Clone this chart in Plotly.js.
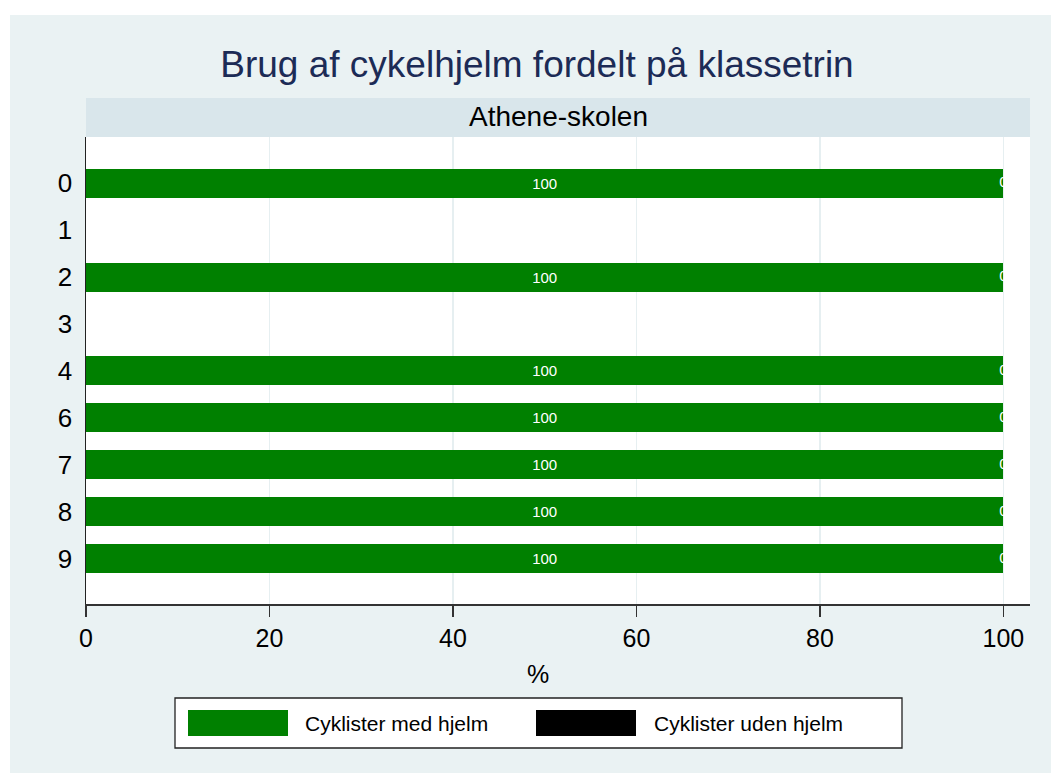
<!DOCTYPE html>
<html>
<head>
<meta charset="utf-8">
<script src="https://cdn.plot.ly/plotly-3.0.1.min.js"></script>
<style>html,body{margin:0;padding:0;background:#fff;}#chart{width:1051px;height:773px;}</style>
</head>
<body>
<div id="chart"></div>
<script>
// Data
var categories = ['0', '1', '2', '3', '4', '6', '7', '8', '9'];
var medHjelm   = [100, null, 100, null, 100, 100, 100, 100, 100];
var udenHjelm  = [0,   null, 0,   null, 0,   0,   0,   0,   0];
var seriesNames = ['Cyklister med hjelm', 'Cyklister uden hjelm'];
var seriesColors = ['#008000', '#000000'];
var xTicks = [0, 20, 40, 60, 80, 100];
var chartTitle = 'Brug af cykelhjelm fordelt på klassetrin';
var panelTitle = 'Athene-skolen';
var xTitle = '%';

var FONT = 'Liberation Sans, Arial, sans-serif';

function labels(arr) { return arr.map(function (v) { return v === null ? '' : String(v); }); }
var cum = medHjelm.map(function (v, i) { return v === null ? null : v + udenHjelm[i]; });

var traces = [
  {
    type: 'bar', orientation: 'h', name: seriesNames[0],
    y: categories, x: medHjelm,
    marker: { color: seriesColors[0], line: { width: 0 } },
    text: labels(medHjelm), textposition: 'inside', insidetextanchor: 'middle',
    textfont: { color: '#ffffff', size: 15, family: FONT },
    constraintext: 'none', hoverinfo: 'x+y+name', showlegend: false
  },
  {
    type: 'bar', orientation: 'h', name: seriesNames[1],
    y: categories, x: udenHjelm,
    marker: { color: seriesColors[1], line: { width: 0 } },
    hoverinfo: 'x+y+name', showlegend: false
  },
  {
    type: 'scatter', mode: 'text', y: categories, x: cum,
    text: labels(udenHjelm), textposition: 'middle center',
    textfont: { color: '#ffffff', size: 15, family: FONT },
    hoverinfo: 'skip', showlegend: false, cliponaxis: true
  }
];

// geometry helpers (pixel -> paper) for decorations
var W = 1051, H = 773, L = 86, R = 21, T = 137, B = 169;
var pw = W - L - R, ph = H - T - B;
function px(x) { return (x - L) / pw; }
function py(y) { return (H - B - y) / ph; }

var shapes = [
  { type: 'rect', xref: 'paper', yref: 'paper', layer: 'below',
    x0: px(10), x1: px(W + 2), y0: py(H + 2), y1: py(15),
    fillcolor: '#EAF2F3', line: { width: 0 } },
  { type: 'rect', xref: 'paper', yref: 'paper', layer: 'below',
    x0: 0, x1: 1, y0: 0, y1: 1, fillcolor: '#ffffff', line: { width: 0 } },
  { type: 'rect', xref: 'paper', yref: 'paper', layer: 'below',
    x0: 0, x1: 1, y0: 1, y1: py(98), fillcolor: '#D9E6EB', line: { width: 0 } },
  // legend box
  { type: 'rect', xref: 'paper', yref: 'paper',
    x0: px(175), x1: px(902), y0: py(748), y1: py(698),
    fillcolor: '#ffffff', line: { color: '#222222', width: 1.3 } },
  { type: 'rect', xref: 'paper', yref: 'paper',
    x0: px(188), x1: px(288), y0: py(736), y1: py(710),
    fillcolor: seriesColors[0], line: { width: 0 } },
  { type: 'rect', xref: 'paper', yref: 'paper',
    x0: px(536), x1: px(636), y0: py(736), y1: py(710),
    fillcolor: seriesColors[1], line: { width: 0 } }
];

var annotations = [
  { xref: 'paper', yref: 'paper', x: 0.5, y: py(117), text: panelTitle, showarrow: false,
    xanchor: 'center', yanchor: 'middle', font: { family: FONT, size: 28, color: '#000000' } },
  { xref: 'paper', yref: 'paper', x: px(538), y: py(674), text: xTitle, showarrow: false,
    xanchor: 'center', yanchor: 'middle', font: { family: FONT, size: 25, color: '#000000' } },
  { xref: 'paper', yref: 'paper', x: px(303), y: py(723), text: seriesNames[0], showarrow: false,
    xanchor: 'left', yanchor: 'middle', font: { family: FONT, size: 21, color: '#000000' } },
  { xref: 'paper', yref: 'paper', x: px(652), y: py(723), text: seriesNames[1], showarrow: false,
    xanchor: 'left', yanchor: 'middle', font: { family: FONT, size: 21, color: '#000000' } }
];

var layout = {
  width: W, height: H,
  margin: { l: L, r: R, t: T, b: B, pad: 0 },
  paper_bgcolor: '#ffffff',
  plot_bgcolor: '#ffffff',
  font: { family: FONT, color: '#000000' },
  barmode: 'stack',
  bargap: 0.383,
  showlegend: false,
  title: {
    text: chartTitle, xref: 'container', yref: 'container',
    x: 537 / W, y: 1 - 64 / H, xanchor: 'center', yanchor: 'middle',
    font: { family: FONT, size: 37, color: '#1C2B56' }
  },
  xaxis: {
    range: [0, 102.9], tickvals: xTicks, ticktext: xTicks.map(String),
    showgrid: true, gridcolor: '#E6EFF1', gridwidth: 1.5,
    zeroline: false, showline: true, linecolor: '#333333', linewidth: 1.5,
    ticks: 'outside', ticklen: 11, tickwidth: 1.5, tickcolor: '#333333',
    tickfont: { family: FONT, size: 25, color: '#000000' },
    fixedrange: true
  },
  yaxis: {
    type: 'category', categoryorder: 'array', categoryarray: categories,
    range: [8.96, -0.98],
    showgrid: false, zeroline: false, showline: true, linecolor: '#222222', linewidth: 1.5,
    ticks: 'outside', ticklen: 7, tickcolor: 'rgba(0,0,0,0)',
    tickfont: { family: FONT, size: 26, color: '#000000' },
    fixedrange: true
  },
  shapes: shapes,
  annotations: annotations
};

Plotly.newPlot('chart', traces, layout, { displayModeBar: false, staticPlot: true });
</script>
</body>
</html>
